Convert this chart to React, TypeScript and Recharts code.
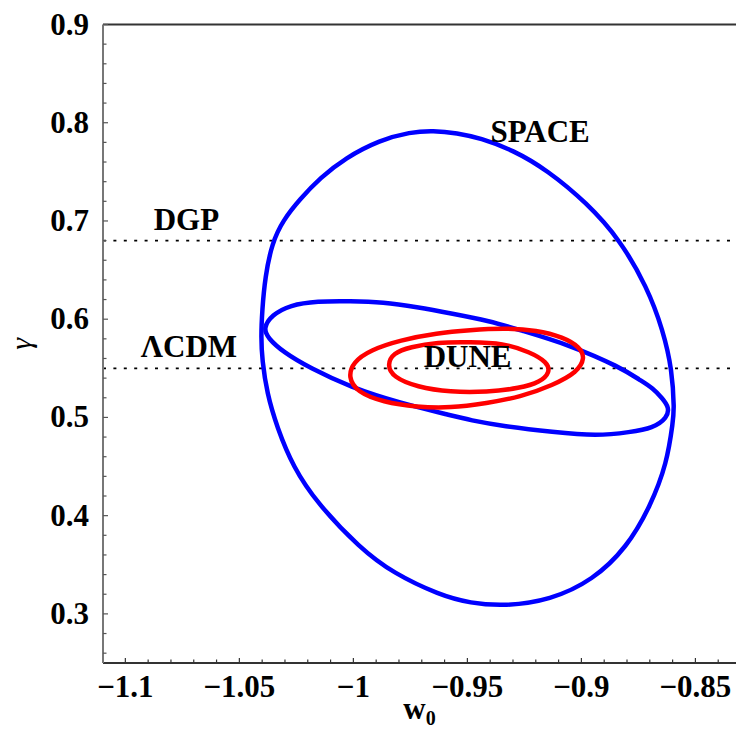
import React from 'react';
import { ScatterChart, Scatter, XAxis, YAxis, ReferenceLine, ReferenceDot } from 'recharts';

// Contours (w0, gamma)
const spaceContour: [number, number][] = [
  [-0.9650, 0.7921], [-0.9545, 0.7895], [-0.9444, 0.7844], [-0.9300, 0.7722], [-0.9150, 0.7518],
  [-0.8975, 0.7182], [-0.8830, 0.6806], [-0.8712, 0.6327], [-0.8642, 0.5889], [-0.8602, 0.5482],
  [-0.8593, 0.5074], [-0.8598, 0.4972], [-0.8624, 0.4535], [-0.8699, 0.4087], [-0.8800, 0.3679],
  [-0.8949, 0.3343], [-0.9137, 0.3140], [-0.9335, 0.3078], [-0.9488, 0.3109], [-0.9620, 0.3190],
  [-0.9826, 0.3415], [-0.9971, 0.3669], [-1.0159, 0.4127], [-1.0264, 0.4494], [-1.0335, 0.4901],
  [-1.0379, 0.5247], [-1.0400, 0.5584], [-1.0405, 0.5818], [-1.0400, 0.6093], [-1.0387, 0.6429],
  [-1.0357, 0.6775], [-1.0308, 0.7009], [-1.0234, 0.7223], [-1.0146, 0.7437], [-1.0036, 0.7641],
  [-0.9883, 0.7824], [-0.9751, 0.7905],
];

const spaceInnerContour: [number, number][] = [
  [-1.0395, 0.5909], [-1.0358, 0.6042], [-1.0278, 0.6144], [-1.0159, 0.6184], [-1.0014, 0.6184],
  [-0.9870, 0.6174], [-0.9721, 0.6123], [-0.9576, 0.6062], [-0.9400, 0.5981], [-0.9269, 0.5889],
  [-0.9050, 0.5736], [-0.8830, 0.5512], [-0.8743, 0.5380], [-0.8686, 0.5298], [-0.8646, 0.5197],
  [-0.8615, 0.5105], [-0.8624, 0.4993], [-0.8686, 0.4891], [-0.8786, 0.4850], [-0.8931, 0.4810],
  [-0.9124, 0.4850], [-0.9343, 0.4911], [-0.9488, 0.4972], [-0.9576, 0.5023], [-0.9795, 0.5146],
  [-1.0014, 0.5309], [-1.0190, 0.5502], [-1.0308, 0.5665], [-1.0375, 0.5808],
];

const duneOuterContour: [number, number][] = [
  [-1.0023, 0.5410], [-1.0001, 0.5563], [-0.9927, 0.5685], [-0.9795, 0.5787], [-0.9633, 0.5858],
  [-0.9488, 0.5889], [-0.9343, 0.5909], [-0.9194, 0.5889], [-0.9080, 0.5818], [-0.9006, 0.5716],
  [-0.8984, 0.5604], [-0.9018, 0.5461], [-0.9124, 0.5329], [-0.9269, 0.5207], [-0.9414, 0.5146],
  [-0.9576, 0.5095], [-0.9721, 0.5105], [-0.9870, 0.5156], [-0.9984, 0.5258],
];

const duneInnerContour: [number, number][] = [
  [-0.9852, 0.5533], [-0.9826, 0.5655], [-0.9751, 0.5716], [-0.9633, 0.5767], [-0.9488, 0.5767],
  [-0.9343, 0.5757], [-0.9225, 0.5665], [-0.9150, 0.5563], [-0.9137, 0.5461], [-0.9181, 0.5359],
  [-0.9269, 0.5298], [-0.9414, 0.5258], [-0.9576, 0.5258], [-0.9721, 0.5309], [-0.9826, 0.5410],
];

// Reference models
const dgpGamma = 0.68;
const lcdmGamma = 0.55;

// Ticks
const xMajorTicks = [-1.1, -1.05, -1, -0.95, -0.9, -0.85];
const xMajorLabels = ['\u22121.1', '\u22121.05', '\u22121', '\u22120.95', '\u22120.9', '\u22120.85'];
const xAllTicks = [
  -1.1, -1.09, -1.08, -1.07, -1.06, -1.05, -1.04, -1.03, -1.02, -1.01, -1.0,
  -0.99, -0.98, -0.97, -0.96, -0.95, -0.94, -0.93, -0.92, -0.91, -0.9,
  -0.89, -0.88, -0.87, -0.86, -0.85, -0.84,
];
const yMajorTicks = [0.3, 0.4, 0.5, 0.6, 0.7, 0.8, 0.9];
const yMajorLabels = ['0.3', '0.4', '0.5', '0.6', '0.7', '0.8', '0.9'];
const yAllTicks = [
  0.26, 0.28, 0.3, 0.32, 0.34, 0.36, 0.38, 0.4, 0.42, 0.44, 0.46, 0.48, 0.5,
  0.52, 0.54, 0.56, 0.58, 0.6, 0.62, 0.64, 0.66, 0.68, 0.7, 0.72, 0.74, 0.76,
  0.78, 0.8, 0.82, 0.84, 0.86, 0.88, 0.9,
];

// Text labels and their anchor points (data coords)
const annotations = [
  { text: 'SPACE', x: -0.9181, y: 0.7915 },
  { text: 'DGP', x: -1.0732, y: 0.7019 },
  { text: '\u039BCDM', x: -1.0721, y: 0.5726 },
  { text: 'DUNE', x: -0.9499, y: 0.5624 },
];

const FONT = '"Liberation Serif", "Times New Roman", serif';

const toPts = (arr: [number, number][]) => arr.map(([x, y]) => ({ x, y }));

const findMajor = (list: number[], v: number) => list.findIndex((m) => Math.abs(m - v) < 1e-6);

const XTick = (props: any) => {
  const { x, y, payload } = props;
  const i = findMajor(xMajorTicks, payload.value);
  const major = i >= 0;
  return (
    <g>
      <line x1={x} x2={x} y1={y} y2={y - (major ? 5 : 3.5)} stroke="#333" strokeWidth={1.2} />
      {major && (
        <text x={x} y={y + 34} textAnchor="middle" fontFamily={FONT} fontWeight="bold" fontSize={31} fill="#000">
          {xMajorLabels[i]}
        </text>
      )}
    </g>
  );
};

const YTick = (props: any) => {
  const { x, y, payload } = props;
  const i = findMajor(yMajorTicks, payload.value);
  const major = i >= 0;
  return (
    <g>
      <line x1={x} x2={x + (major ? 5 : 3.5)} y1={y} y2={y} stroke="#555" strokeWidth={1.2} />
      {major && (
        <text x={x - 14} y={y + 10} textAnchor="end" fontFamily={FONT} fontWeight="bold" fontSize={31} fill="#000">
          {yMajorLabels[i]}
        </text>
      )}
    </g>
  );
};

const XTitle = (props: any) => {
  const vb = props.viewBox || {};
  const cx = vb.x + vb.width / 2;
  return (
    <text x={cx} y={vb.y + 56} textAnchor="middle" fontFamily={FONT} fontWeight="bold" fontSize={31} fill="#000">
      w
      <tspan fontSize={20} dy={6}>0</tspan>
    </text>
  );
};

const YTitle = (props: any) => {
  const vb = props.viewBox || {};
  const cx = vb.x + 24;
  const cy = vb.y + vb.height / 2;
  return (
    <text
      x={cx}
      y={cy}
      transform={`rotate(-90, ${cx}, ${cy})`}
      textAnchor="middle"
      dominantBaseline="middle"
      fontFamily={FONT}
      fontStyle="italic"
      fontSize={30}
      fill="#000"
    >
      γ
    </text>
  );
};

const noShape = () => <g />;

export default function App() {
  const curves = [
    { data: spaceContour, color: '#0000ff' },
    { data: spaceInnerContour, color: '#0000ff' },
    { data: duneOuterContour, color: '#ff0000' },
    { data: duneInnerContour, color: '#ff0000' },
  ];
  return (
    <div style={{ position: 'absolute', left: 0, top: 0, width: 736, height: 738, background: '#fff' }}>
      <ScatterChart width={736} height={738} margin={{ top: 24.5, right: 0, bottom: 0, left: 0 }}>
        <XAxis
          type="number"
          dataKey="x"
          domain={[-1.1098, -0.8322]}
          allowDataOverflow
          ticks={xAllTicks}
          interval={0}
          tick={(p: any) => <XTick {...p} />}
          tickLine={false}
          tickSize={0}
          tickMargin={0}
          height={75}
          axisLine={{ stroke: '#333', strokeWidth: 2 }}
          label={{ content: (p: any) => <XTitle {...p} /> }}
        />
        <YAxis
          type="number"
          dataKey="y"
          domain={[0.25, 0.9]}
          allowDataOverflow
          ticks={yAllTicks}
          interval={0}
          tick={(p: any) => <YTick {...p} />}
          tickLine={false}
          tickSize={0}
          tickMargin={0}
          width={103}
          axisLine={{ stroke: '#777', strokeWidth: 2 }}
          label={{ content: (p: any) => <YTitle {...p} /> }}
        />
        <ReferenceLine y={0.9} stroke="#333" strokeWidth={2} />
        <ReferenceLine y={dgpGamma} stroke="#000" strokeWidth={1.8} strokeDasharray="3 7.4" />
        <ReferenceLine y={lcdmGamma} stroke="#000" strokeWidth={1.8} strokeDasharray="3 7.4" />
        {curves.map((c, i) => (
          <Scatter
            key={i}
            data={toPts(c.data)}
            fill="none"
            line={{ stroke: c.color, strokeWidth: 4.5, fill: 'none' }}
            lineType="joint"
            lineJointType="basisClosed"
            shape={noShape}
            isAnimationActive={false}
          />
        ))}
        {annotations.map((a) => (
          <ReferenceDot
            key={a.text}
            x={a.x}
            y={a.y}
            r={0}
            fill="none"
            stroke="none"
            label={{
              value: a.text,
              position: 'center',
              fill: '#000',
              fontSize: 31,
              fontWeight: 'bold',
              fontFamily: FONT,
            }}
          />
        ))}
      </ScatterChart>
    </div>
  );
}
